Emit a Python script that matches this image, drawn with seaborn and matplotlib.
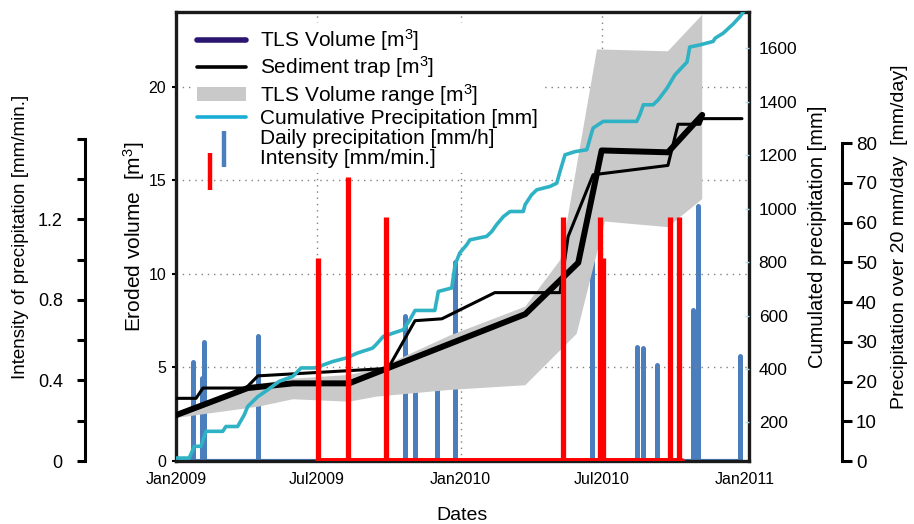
import numpy as np
import pandas as pd
import matplotlib
matplotlib.use("Agg")
import matplotlib.pyplot as plt
import matplotlib.dates as mdates
import seaborn as sns
from matplotlib.lines import Line2D
from matplotlib.patches import Patch
from matplotlib.legend_handler import HandlerBase

# ---------------- data (days since 2009-01-01) ----------------
tls_days = [0, 92, 150, 222, 448, 516, 546, 631, 675]
tls_vol = [2.45, 3.9, 4.15, 4.15, 7.85, 10.6, 16.6, 16.5, 18.5]

trap_days = [0, 25.7, 34.6, 89.8, 105, 272, 306.6, 341, 409, 492.6, 503, 535, 631, 644, 672, 675, 726]
trap_vol = [3.35, 3.35, 3.9, 3.9, 4.55, 4.95, 7.5, 7.6, 9.0, 9.0, 12.0, 15.3, 15.8, 18.0, 18.0, 18.3, 18.3]

range_up_days = [0, 105, 150, 222, 257, 351, 448, 493, 540, 631, 675]
range_up_vol = [2.6, 4.1, 4.4, 4.6, 4.9, 6.7, 8.25, 10.75, 22.0, 21.9, 23.85]
range_lo_days = [0, 105, 150, 222, 257, 351, 448, 514, 550, 631, 650, 675]
range_lo_vol = [2.3, 2.9, 3.3, 3.17, 3.44, 3.8, 4.05, 6.8, 12.8, 12.5, 13.15, 14.0]

cum_days = [0, 17, 23.5, 32, 38.5, 60, 64, 79, 87.6, 92, 105, 117.6, 132.5, 149.7, 160.4,
            177.4, 184, 201, 218, 233, 252, 256.6, 266, 291.6, 300, 306.6, 332, 336.5, 353.7,
            358, 364, 373, 377, 398.5, 405, 411, 420, 428.5, 445.5, 447.7, 456, 462.7, 480,
            488.4, 492.6, 499, 512, 527, 533, 535, 548, 591, 595, 599.5, 612, 618.7, 630,
            640, 655.5, 659, 672, 689, 691.5, 702, 715, 723.5, 730]
cum_mm = [67, 67, 111, 111, 167, 167, 185, 185, 229, 260, 297, 322, 354, 372, 404,
          404, 410, 428, 441, 460, 478, 491, 522, 547, 584, 619, 619, 690, 703,
          790, 834, 865, 883, 896, 914, 939, 970, 989, 989, 1014, 1051, 1070, 1083,
          1095, 1139, 1201, 1213, 1220, 1282, 1301, 1326, 1326, 1351, 1388, 1388, 1407, 1451,
          1500, 1548, 1604, 1612, 1625, 1637, 1656, 1691, 1718, 1745]

daily_days = [21.4, 33.4, 36.3, 104.8, 293.8, 306.6, 334.4, 358, 533.3, 591, 599.5, 616.7, 663.6, 670, 723.5]
daily_mm = [25, 21, 30, 31.5, 36.5, 22, 27.5, 50, 72, 28.8, 28.4, 24.2, 38, 64.2, 26.3]

int_days = [182, 220.7, 269.4, 496.5, 544, 547.8, 633.7, 645.3]
int_val = [1.01, 1.41, 1.21, 1.21, 1.21, 1.01, 1.21, 1.21]
int_span = [182, 648]

xtick_days = [0, 181, 365, 546, 730]
xtick_labels = ["Jan2009", "Jul2009", "Jan2010", "Jul2010", "Jan2011"]

# ---------------- style ----------------
sns.set_theme(style="white")
plt.rcParams["font.family"] = ["Liberation Sans", "DejaVu Sans"]
plt.rcParams["mathtext.fontset"] = "custom"
plt.rcParams["mathtext.rm"] = "Liberation Sans"
plt.rcParams["mathtext.default"] = "regular"
for k in ("text.color", "axes.labelcolor", "xtick.color", "ytick.color",
          "xtick.labelcolor", "ytick.labelcolor"):
    plt.rcParams[k] = "black"

BASE = pd.Timestamp("2009-01-01")


def to_date(d):
    return BASE + pd.to_timedelta(np.asarray(d, dtype=float), unit="D")


C_CYAN = "#2fb2c4"
C_BLUE = "#4a7ebd"
C_RED = "#ff0000"
C_GRAY = "#c9c9c9"
C_NAVY = "#2a1670"

fig = plt.figure(figsize=(9.14, 5.24), dpi=100)
ax = fig.add_axes([176 / 914, 63 / 524, 573 / 914, 449 / 524])
ax_day = ax.twinx()
ax_cum = ax.twinx()
ax_int = ax.twinx()

ax_day.set_zorder(1)
ax.set_zorder(2)
ax_cum.set_zorder(3)
ax_int.set_zorder(4)
for a in (ax, ax_day, ax_cum, ax_int):
    a.patch.set_visible(False)

# ---- main axis: volumes ----
df_tls = pd.DataFrame({"date": to_date(tls_days), "vol": tls_vol})
df_trap = pd.DataFrame({"date": to_date(trap_days), "vol": trap_vol})
sns.lineplot(data=df_tls, x="date", y="vol", ax=ax, color="black", lw=4.3,
             sort=False, estimator=None, zorder=4, legend=False)
sns.lineplot(data=df_trap, x="date", y="vol", ax=ax, color="black", lw=2.2,
             sort=False, estimator=None, zorder=3, legend=False)
poly_x = np.concatenate([mdates.date2num(to_date(range_up_days)),
                         mdates.date2num(to_date(range_lo_days))[::-1]])
poly_y = np.concatenate([range_up_vol, range_lo_vol[::-1]])
ax.fill(poly_x, poly_y, color=C_GRAY, lw=0, zorder=1)

xlim = (mdates.date2num(to_date([0]))[0], mdates.date2num(to_date([735]))[0])
ax.set_xlim(xlim)
ax.set_ylim(0, 24.0)
ax.set_yticks([0, 5, 10, 15, 20])
ax.set_xticks(mdates.date2num(to_date(xtick_days)))
ax.set_xticklabels(xtick_labels, fontsize=11.5)
ax.tick_params(axis="y", labelsize=11.5, direction="out", length=3, width=1.5, pad=4, left=True)
ax.tick_params(axis="x", direction="in", length=0, pad=8)
for s in ax.spines.values():
    s.set_linewidth(2.4)
    s.set_color("#1a1a1a")
ax.set_ylabel("Eroded volume  [m$^3$]", fontsize=15, labelpad=1)
ax.set_xlabel("Dates", fontsize=14, labelpad=14)

# dotted grid
grid_kw = dict(color="#808080", lw=1.0, linestyle=(0, (1, 3.5)), zorder=0)
for yv in [5, 10, 15, 20]:
    ax.axhline(yv, **grid_kw)
for xd in xtick_days[1:4]:
    ax.axvline(mdates.date2num(to_date([xd]))[0], **grid_kw)

# ---- daily precipitation (outer right) ----
ax_day.vlines(to_date(daily_days), 0, daily_mm, color=C_BLUE, lw=3.6, capstyle="round")
ax_day.plot(to_date([0, 723.5]), [0, 0], color=C_BLUE, lw=3)
ax_day.set_ylim(0, 113)
ax_day.set_xlim(xlim)
ax_day.spines["right"].set_position(("axes", 1 + 93 / 573))
ax_day.spines["right"].set_bounds(0, 80)
ax_day.spines["right"].set_linewidth(2.2)
ax_day.spines["right"].set_color("black")
for k in ("left", "top", "bottom"):
    ax_day.spines[k].set_visible(False)
ax_day.set_yticks(range(0, 81, 10))
ax_day.tick_params(axis="y", direction="out", length=7, width=2.2, labelsize=13.5, pad=3, right=True)
ax_day.set_ylabel("Precipitation over 20 mm/day  [mm/day]", fontsize=14, labelpad=10)
ax_day.yaxis.set_label_position("right")

# ---- cumulative precipitation (right) ----
df_cum = pd.DataFrame({"date": to_date(cum_days), "mm": cum_mm})
sns.lineplot(data=df_cum, x="date", y="mm", ax=ax_cum, color=C_CYAN, lw=2.6,
             sort=False, estimator=None, legend=False)
ax_cum.set_ylim(56, 1735)
ax_cum.set_xlim(xlim)
ax_cum.set_yticks(range(200, 1601, 200))
ax_cum.tick_params(axis="y", direction="in", length=3, width=1, color="#a8dce6",
                   labelsize=12.5, pad=7, right=True)
for s in ax_cum.spines.values():
    s.set_visible(False)
ax_cum.set_ylabel("Cumulated precipitation [mm]", fontsize=14.5, labelpad=8)
ax_cum.set_xlabel("")

# ---- intensity (outer left) ----
ax_int.vlines(to_date(int_days), 0, int_val, color=C_RED, lw=3.8)
ax_int.plot(to_date(int_span), [0, 0], color=C_RED, lw=5)
ax_int.set_ylim(0, 2.231)
ax_int.set_xlim(xlim)
ax_int.yaxis.set_ticks_position("left")
ax_int.yaxis.set_label_position("left")
for k in ("right", "top", "bottom"):
    ax_int.spines[k].set_visible(False)
ax_int.spines["left"].set_visible(True)
ax_int.spines["left"].set_position(("axes", -91 / 573))
ax_int.spines["left"].set_bounds(0, 1.6)
ax_int.spines["left"].set_linewidth(2.2)
ax_int.spines["left"].set_color("black")
ax_int.set_yticks([0, 0.4, 0.8, 1.2])
ax_int.set_yticklabels(["0", "0.4", "0.8", "1.2"])
ax_int.set_yticks([0.2, 0.6, 1.0, 1.4, 1.6], minor=True)
ax_int.tick_params(axis="y", which="both", direction="out", length=6, width=2.2,
                   labelsize=13, pad=10, left=True, right=False, labelleft=True, labelright=False)
ax_int.set_ylabel("Intensity of precipitation [mm/min.]", fontsize=13.5, labelpad=6)
ax_int.set_xlabel("")

for a in (ax_day, ax_cum, ax_int):
    a.tick_params(axis="x", bottom=False, labelbottom=False)
    a.set_xlabel("")


# ---------------- legend ----------------
class VBarHandler(HandlerBase):
    def __init__(self, xfrac, y0, y1, color, lw):
        super().__init__()
        self.xfrac, self.y0, self.y1, self.color, self.lw = xfrac, y0, y1, color, lw

    def create_artists(self, legend, orig_handle, xdescent, ydescent, width, height, fontsize, trans):
        x = -xdescent + self.xfrac * width
        ln = Line2D([x, x], [-ydescent + self.y0 * height, -ydescent + self.y1 * height],
                    color=self.color, lw=self.lw, solid_capstyle="butt", transform=trans)
        return [ln]


h_tls = Line2D([], [], color=C_NAVY, lw=4)
h_trap = Line2D([], [], color="black", lw=2.6)
h_rng = Patch(facecolor=C_GRAY, edgecolor="none")
h_cum = Line2D([], [], color="#1aaed6", lw=2.6)
h_day = Line2D([], [], color=C_BLUE)
h_int = Line2D([], [], color=C_RED)
leg = ax_int.legend(
    [h_tls, h_trap, h_rng, h_cum, h_day, h_int],
    ["TLS Volume [m$^3$]", "Sediment trap [m$^3$]", "TLS Volume range [m$^3$]",
     "Cumulative Precipitation [mm]", "Daily precipitation [mm/h]", "Intensity [mm/min.]"],
    handler_map={h_day: VBarHandler(0.55, -1.55, 0.9, C_BLUE, 3.2),
                 h_int: VBarHandler(0.26, -1.75, 0.75, C_RED, 3.2)},
    loc="upper left", bbox_to_anchor=(0.029, 0.975), borderaxespad=0, borderpad=0.2,
    fontsize=15, handlelength=2.35, handletextpad=0.7, labelspacing=0.06,
    frameon=True, fancybox=False, facecolor="white", edgecolor="none", framealpha=1,
)

fig.savefig("out.png", dpi=100)
